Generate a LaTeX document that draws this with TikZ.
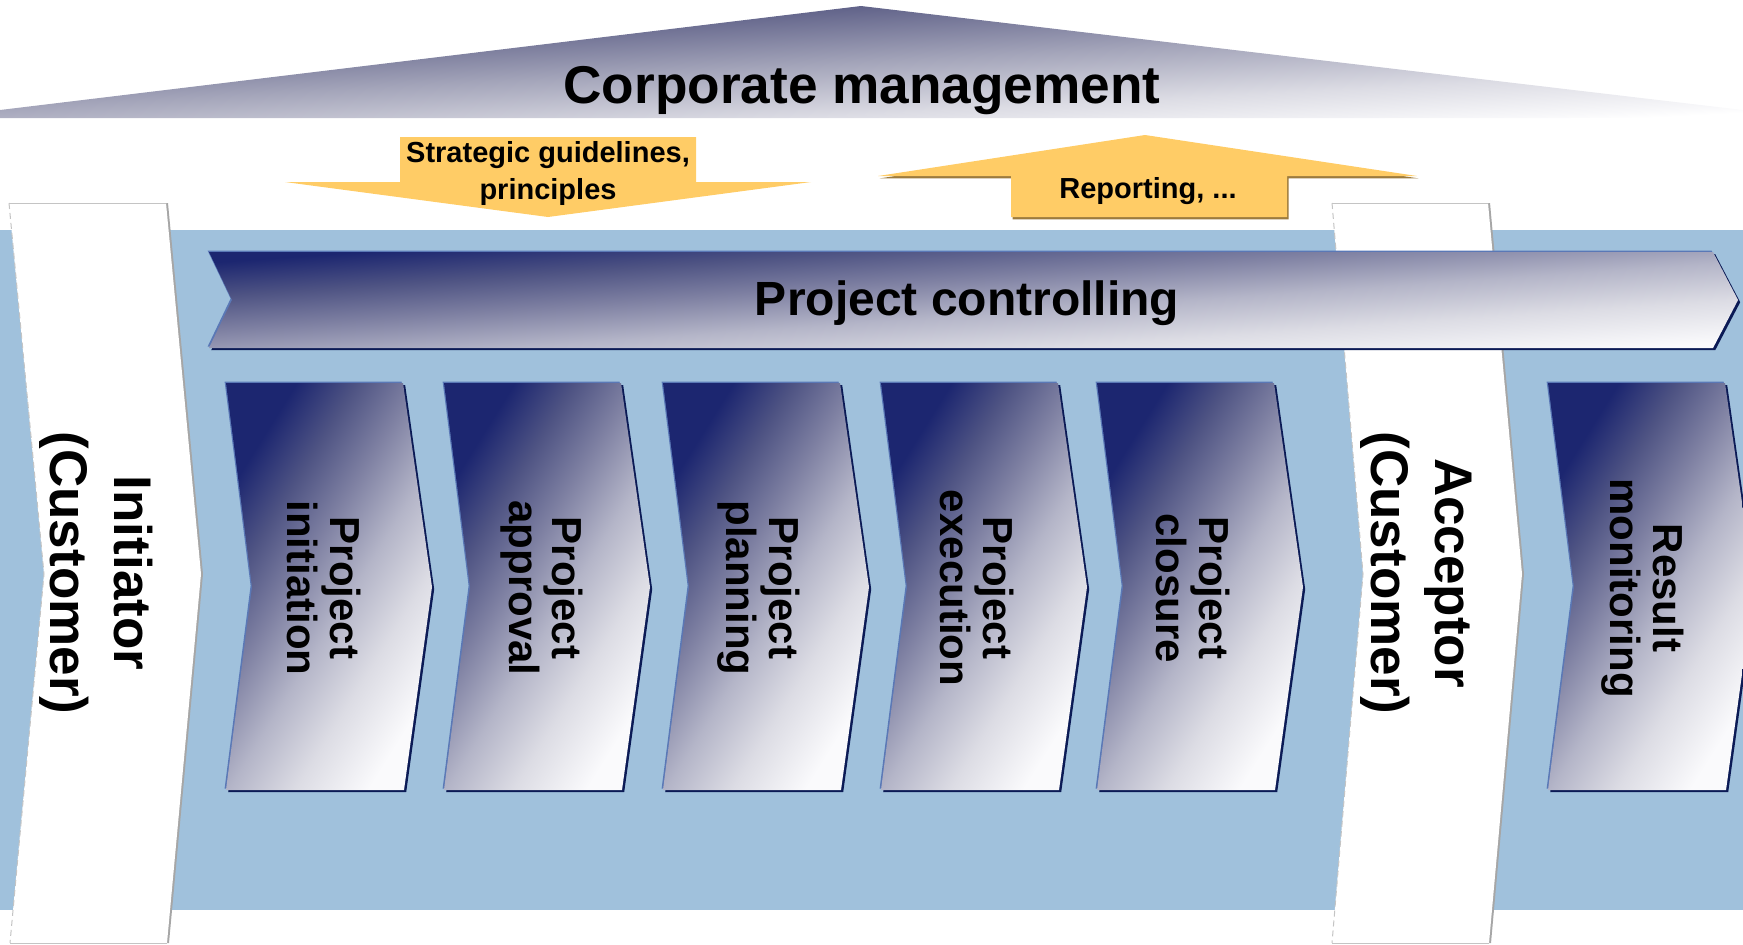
\documentclass[tikz,border=0pt]{standalone}
\usepackage{fontspec}
\setmainfont{Liberation Sans}
\usepackage{tikz}
\usetikzlibrary{shadows}
\definecolor{band}{HTML}{A0C1DC}
\definecolor{navy}{HTML}{0B1A55}
\definecolor{rim}{HTML}{5A78B6}
\definecolor{gold}{HTML}{FFCC66}
\definecolor{goldshadow}{HTML}{9C7B3E}
\definecolor{bargrey}{HTML}{A6A6A6}
\definecolor{barrim}{HTML}{C4C4C4}
% chevron colours, light to dark
\definecolor{chev0}{HTML}{FAFAFC}
\definecolor{chev1}{HTML}{DCDCE4}
\definecolor{chev2}{HTML}{B4B5C8}
\definecolor{chev3}{HTML}{7E80A2}
\definecolor{chev4}{HTML}{4E5383}
\definecolor{chev5}{HTML}{1C2670}
% roof colours, light to dark
\definecolor{roof0}{HTML}{FFFFFF}
\definecolor{roof1}{HTML}{F8F8FA}
\definecolor{roof2}{HTML}{DCDCE4}
\definecolor{roof3}{HTML}{A4A5BA}
\definecolor{roof4}{HTML}{5F6188}
\definecolor{roof5}{HTML}{50527E}
\pgfdeclareverticalshading{chevshade}{100bp}{color(0bp)=(chev0); color(25bp)=(chev0);
  color(36bp)=(chev1); color(46bp)=(chev2); color(56bp)=(chev3); color(65bp)=(chev4);
  color(74bp)=(chev5); color(100bp)=(chev5)}
\pgfdeclareverticalshading{roofshade}{100bp}{color(0bp)=(roof0); color(25bp)=(roof0);
  color(27bp)=(roof1); color(36.5bp)=(roof2); color(50bp)=(roof3); color(65bp)=(roof4);
  color(75bp)=(roof5); color(100bp)=(roof5)}

\begin{document}
\begin{tikzpicture}[x=0.5pt,y=-0.5pt,
  chevbox/.style={shade,shading=chevshade,shading angle=58,
    general shadow={fill=rim,shadow xshift=-0.7pt,shadow yshift=0.7pt},
    general shadow={fill=navy,shadow xshift=1.1pt,shadow yshift=-1.1pt}},
  chevron/.style={insert path={-- ++(177,0) -- ++(29,204) -- ++(-28,203)
    -- ++(-178,0) -- ++(26,-203) -- cycle}},
  whitebar/.style={fill=white,general shadow={fill=bargrey,shadow xshift=1pt}},
  rimline/.style={draw=barrim,line width=0.5pt},
  goldarrow/.style={fill=gold},
  guide/.style={align=center,font=\bfseries\fontsize{14.5}{18.5}\selectfont},
  party/.style={rotate=-90,align=center,font=\bfseries\fontsize{26.5}{32}\selectfont},
  steptext/.style={rotate=-90,align=center,font=\bfseries\fontsize{21}{21.5}\selectfont}
]
\useasboundingbox (0,0) rectangle (1743,944);
\clip (0,0) rectangle (1743,944);

% roof
\path[shade,shading=roofshade,shading angle=3]
  (0,118) -- (0,110) -- (861,6) -- (1743,110) -- (1743,118) -- cycle;
\node[font=\bfseries\fontsize{26.6}{32}\selectfont] (corporate) at (862,91) {Corporate management};

% top-down and bottom-up arrows
\path[goldarrow] (400,137) -- (696,137) -- (696,182) -- (811,182) -- (548,217)
  -- (285,182) -- (400,182) -- cycle;
\node[guide] (guidelines) at (548,173) {Strategic guidelines,\\principles};
\path[goldarrow,general shadow={fill=goldshadow,shadow xshift=0.8pt,shadow yshift=-1.2pt}]
  (1145,135) -- (1417,176) -- (1287,176) -- (1287,217) -- (1011,217) -- (1011,176)
  -- (878,176) -- cycle;
\node[guide] (reporting) at (1148,191) {Reporting, ...};

% project band
\fill[band] (0,230) rectangle (1743,910);

% customer bars
\path[whitebar] (9,203) -- (166,203) -- (201,574) -- (167,943) -- (10,943) -- (44,574) -- cycle;
\draw[rimline] (166,203) -- (9,203) (10,943) -- (167,943);
\draw[rimline,densely dashed] (9,203) -- (44,574) -- (10,943);
\node[party] (initiator) at (96,573) {Initiator\\(Customer)};
\path[whitebar] (1332,203) -- (1488,203) -- (1522,574) -- (1489,943) -- (1332,943) -- (1363,574) -- cycle;
\draw[rimline] (1488,203) -- (1332,203) (1332,943) -- (1489,943);
\draw[rimline,densely dashed] (1332,203) -- (1363,574) -- (1332,943);
\node[party] (acceptor) at (1416,573) {Acceptor\\(Customer)};

% controlling
\path[chevbox,shading angle=4] (209,252) -- (1713,252) -- (1738,300) -- (1713,348)
  -- (209,348) -- (232,300) -- cycle;
\node[font=\bfseries\fontsize{24}{28}\selectfont] (controlling) at (967,303) {Project controlling};

% phases
\path[chevbox] (226,383) [chevron];
\node[steptext] (initiation) at (324,588) {Project\\initiation};
\path[chevbox] (444,383) [chevron];
\node[steptext] (approval) at (542,588) {Project\\approval};
\path[chevbox] (663,383) [chevron];
\node[steptext] (planning) at (759,588) {Project\\planning};
\path[chevbox] (881,383) [chevron];
\node[steptext] (execution) at (977,588) {Project\\execution};
\path[chevbox] (1097,383) [chevron];
\node[steptext] (closure) at (1193,588) {Project\\closure};
\path[chevbox] (1548,383) [chevron];
\node[steptext] (monitoring) at (1643,588) {Result\\monitoring};
\end{tikzpicture}
\end{document}
